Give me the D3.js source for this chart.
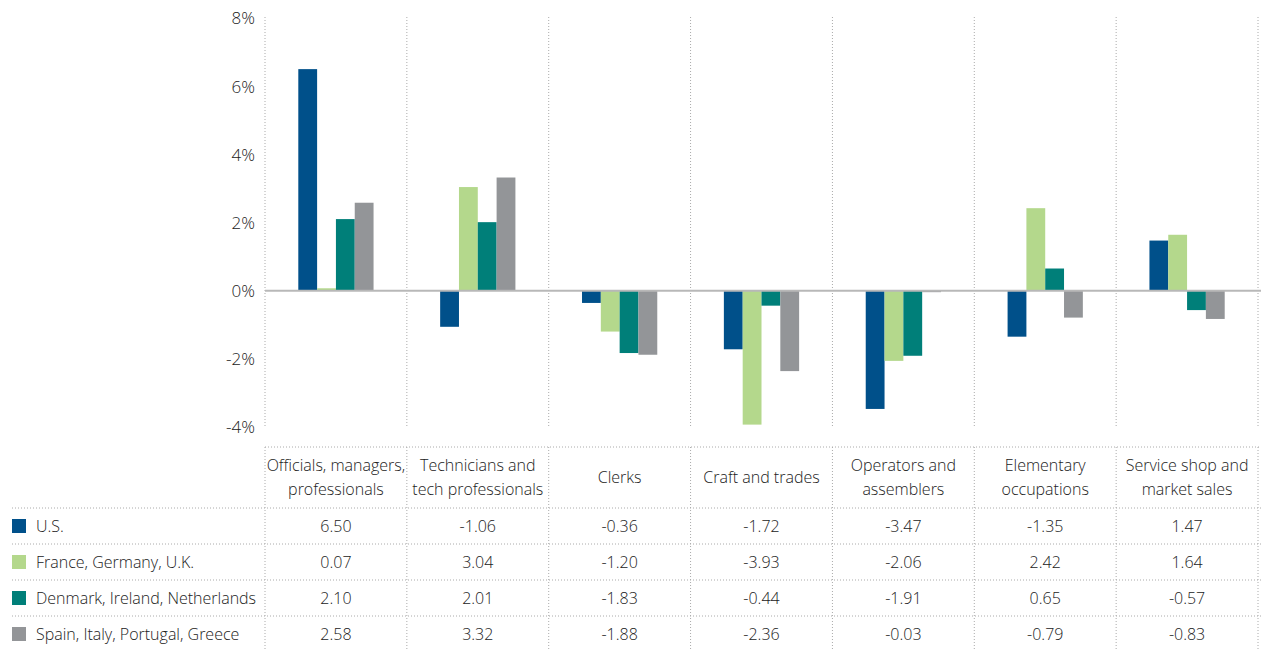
<!DOCTYPE html>
<html><head><meta charset="utf-8">
<script src="https://cdn.jsdelivr.net/npm/d3@7"></script>
<style>
html,body{margin:0;padding:0;background:#fff;}
svg{display:block;font-family:"Open Sans",sans-serif;}
</style></head>
<body><svg id="c" width="1261" height="650"></svg>
<script>
const categories = ["Officials, managers, professionals","Technicians and tech professionals","Clerks","Craft and trades","Operators and assemblers","Elementary occupations","Service shop and market sales"];
const categoryLines = [["Officials, managers,","professionals"],["Technicians and","tech professionals"],["Clerks"],["Craft and trades"],["Operators and","assemblers"],["Elementary","occupations"],["Service shop and","market sales"]];
const seriesNames = ["U.S.","France, Germany, U.K.","Denmark, Ireland, Netherlands","Spain, Italy, Portugal, Greece"];
const usValues = [6.50,-1.06,-0.36,-1.72,-3.47,-1.35,1.47];
const fguValues = [0.07,3.04,-1.20,-3.93,-2.06,2.42,1.64];
const dinValues = [2.10,2.01,-1.83,-0.44,-1.91,0.65,-0.57];
const sipgValues = [2.58,3.32,-1.88,-2.36,-0.03,-0.79,-0.83];
const yTicks = [-4,-2,0,2,4,6,8];
const colors = ["#00508a","#b4d88c","#007f79","#939598"];

(function(){
const seriesValues = [usValues,fguValues,dinValues,sipgValues];
const svg = d3.select("#c");
const W = 1261;
const pLeft = 265, pRight = 1258, pTop = 18, pBottom = 427;
const x = d3.scaleBand().domain(categories).range([pLeft,pRight]).padding(0);
const x1 = d3.scaleBand().domain(seriesNames).range([0,x.bandwidth()]).paddingInner(0).paddingOuter(1.77);
const y = d3.scaleLinear().domain([-4,8]).range([pBottom,pTop]);
const textColor = "#222";
const gridColor = "#aaa";

const vx = categories.map(c=>x(c)).concat([pRight]);
svg.append("g").selectAll("line").data(vx).join("line")
  .attr("x1",d=>d).attr("x2",d=>d).attr("y1",pTop-1).attr("y2",pBottom)
  .attr("stroke",gridColor).attr("stroke-width",1).attr("stroke-dasharray","1,2");

const data = [];
categories.forEach((c,i)=>seriesNames.forEach((s,j)=>data.push({c,s,v:seriesValues[j][i],j})));
svg.append("g").selectAll("rect").data(data).join("rect")
  .attr("x",d=>x(d.c)+x1(d.s))
  .attr("width",x1.bandwidth())
  .attr("y",d=>y(Math.max(0,d.v)))
  .attr("height",d=>Math.max(1.5,Math.abs(y(d.v)-y(0))))
  .attr("fill",d=>colors[d.j]);

svg.append("line").attr("x1",pLeft).attr("x2",W).attr("y1",y(0)).attr("y2",y(0))
  .attr("stroke","#b8b8b8").attr("stroke-width",2);

const yAxis = d3.axisLeft(y).tickValues(yTicks).tickFormat(d=>d+"%").tickSize(0).tickPadding(0);
const ga = svg.append("g").attr("transform",`translate(255,0)`).call(yAxis);
ga.select(".domain").remove();
ga.selectAll("text").attr("font-size",17).attr("fill",textColor).attr("font-weight",300)
  .attr("font-family","'Open Sans',sans-serif").attr("dy","0.35em");

const tTop = 447, hBottom = 508, rowH = 36;
const tg = svg.append("g");
tg.selectAll("line.v").data(vx).join("line").attr("class","v")
  .attr("x1",d=>d).attr("x2",d=>d).attr("y1",tTop).attr("y2",650)
  .attr("stroke",gridColor).attr("stroke-dasharray","1,2");
tg.append("line").attr("x1",pLeft).attr("x2",W).attr("y1",tTop).attr("y2",tTop)
  .attr("stroke",gridColor).attr("stroke-dasharray","1,2");
tg.selectAll("line.h").data(seriesNames).join("line").attr("class","h")
  .attr("x1",12).attr("x2",W).attr("y1",(d,i)=>hBottom+i*rowH).attr("y2",(d,i)=>hBottom+i*rowH)
  .attr("stroke",gridColor).attr("stroke-dasharray","1,2");

categories.forEach((c,i)=>{
  const lines = categoryLines[i];
  const cx = x(c)+x.bandwidth()/2;
  const cy = (tTop+hBottom)/2;
  const t = tg.append("text").attr("x",cx).attr("text-anchor","middle")
    .attr("font-size",16).attr("font-weight",300).attr("fill",textColor);
  lines.forEach((l,k)=>{
    t.append("tspan").attr("x",cx).attr("y",cy+(k-(lines.length-1)/2)*24).attr("dy","0.35em").text(l);
  });
});

seriesNames.forEach((s,j)=>{
  const cy = hBottom + j*rowH + rowH/2;
  tg.append("rect").attr("x",12).attr("y",cy-7).attr("width",14).attr("height",14).attr("fill",colors[j]);
  tg.append("text").attr("x",36).attr("y",cy).attr("dy","0.35em")
    .attr("font-size",16).attr("font-weight",300).attr("fill",textColor).text(s);
  categories.forEach((c,i)=>{
    tg.append("text").attr("x",x(c)+x.bandwidth()/2).attr("y",cy).attr("dy","0.35em")
      .attr("text-anchor","middle").attr("font-size",16).attr("font-weight",300).attr("fill",textColor)
      .text(d3.format(".2f")(seriesValues[j][i]).replace("−","-"));
  });
});
})();
</script></body></html>
